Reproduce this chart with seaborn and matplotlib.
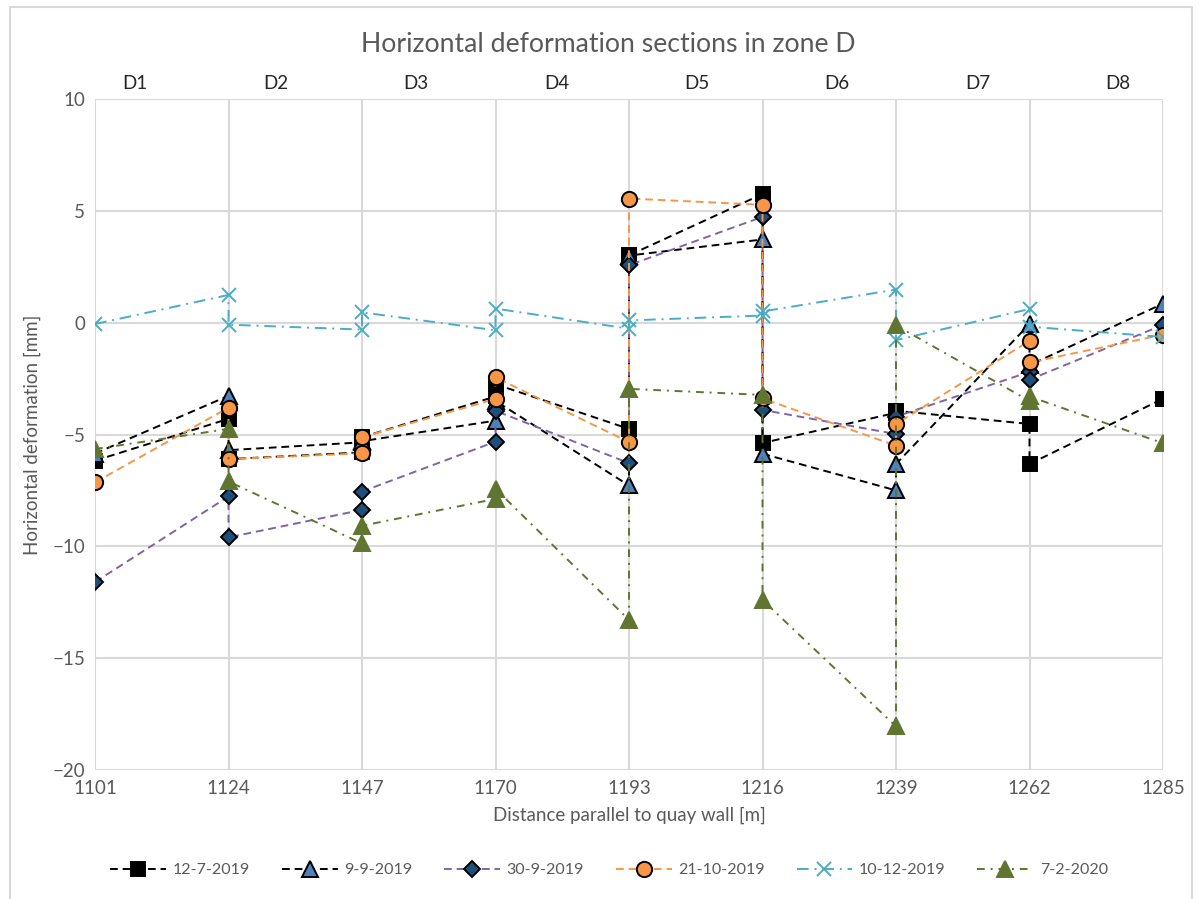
import matplotlib
matplotlib.use("Agg")
import matplotlib.pyplot as plt
from matplotlib.lines import Line2D
import seaborn as sns
import numpy as np

sns.set_theme(style="white")
plt.rcParams["font.family"] = ["Lato", "DejaVu Sans"]

# Section boundaries along the quay wall [m]
boundaries = [1101, 1124, 1147, 1170, 1193, 1216, 1239, 1262, 1285]
sections = ["D1", "D2", "D3", "D4", "D5", "D6", "D7", "D8"]

# Deformation [mm] at start and end of each section D1..D8
s_12_7_2019_start = [-6.17, -6.10, -5.12, -2.75, 3.01, -5.38, -3.94, -6.32]
s_12_7_2019_end = [-4.30, -5.80, -3.30, -4.75, 5.75, -4.03, -4.53, -3.40]

s_9_9_2019_start = [-5.85, -5.70, -5.30, -3.50, 3.00, -5.86, -6.32, -1.90]
s_9_9_2019_end = [-3.27, -5.35, -4.38, -7.28, 3.72, -7.50, -0.06, 0.85]

s_30_9_2019_start = [-11.60, -9.60, -7.55, -3.94, 2.57, -3.90, -4.20, -2.55]
s_30_9_2019_end = [-7.77, -8.37, -5.32, -6.28, 4.73, -4.98, -2.20, -0.10]

s_21_10_2019_start = [-7.14, -6.10, -5.12, -2.45, 5.55, -3.39, -4.53, -1.78]
s_21_10_2019_end = [-3.80, -5.84, -3.41, -5.34, 5.27, -5.50, -0.81, -0.54]

s_10_12_2019_start = [-0.06, -0.09, 0.46, 0.63, 0.10, 0.50, -0.78, -0.18]
s_10_12_2019_end = [1.24, -0.31, -0.34, -0.27, 0.32, 1.48, 0.61, -0.64]

s_7_2_2020_start = [-5.65, -7.10, -9.08, -7.43, -2.96, -12.40, -0.12, -3.30]
s_7_2_2020_end = [-4.75, -9.87, -7.88, -13.29, -3.23, -18.05, -3.50, -5.39]

labels = ["12-7-2019", "9-9-2019", "30-9-2019", "21-10-2019", "10-12-2019", "7-2-2020"]
starts = [s_12_7_2019_start, s_9_9_2019_start, s_30_9_2019_start,
          s_21_10_2019_start, s_10_12_2019_start, s_7_2_2020_start]
ends = [s_12_7_2019_end, s_9_9_2019_end, s_30_9_2019_end,
        s_21_10_2019_end, s_10_12_2019_end, s_7_2_2020_end]

dash = (0, (4.0, 2.5))
dashdot_long = (0, (6.0, 3.0, 1.0, 3.0))
dashdot = (0, (4.0, 3.0, 1.0, 3.0))
styles = [
    dict(color="black", linestyle=dash, marker="s", markersize=10.5,
         markerfacecolor="black", markeredgecolor="black"),
    dict(color="black", linestyle=dash, marker="^", markersize=11,
         markerfacecolor="#4F81BD", markeredgecolor="black"),
    dict(color="#8064A2", linestyle=dash, marker="D", markersize=8.5,
         markerfacecolor="#1F4E79", markeredgecolor="black"),
    dict(color="#F79646", linestyle=dash, marker="o", markersize=11,
         markerfacecolor="#F79646", markeredgecolor="black"),
    dict(color="#4BACC6", linestyle=dashdot_long, marker="x", markersize=10,
         markerfacecolor="#4BACC6", markeredgecolor="#4BACC6"),
    dict(color="#5F7530", linestyle=dashdot, marker="^", markersize=11,
         markerfacecolor="#5F7530", markeredgecolor="#5F7530"),
]

fig = plt.figure(figsize=(12, 8.99), dpi=100)
ax = fig.add_axes([95 / 1200, 1 - 770 / 899, (1163 - 95) / 1200, (770 - 99) / 899])

grey = "#595959"
for lab, st, en, sty in zip(labels, starts, ends, styles):
    xs, ys = [], []
    for i in range(len(sections)):
        xs += [boundaries[i], boundaries[i + 1]]
        ys += [st[i], en[i]]
    sns.lineplot(x=np.array(xs), y=np.array(ys), ax=ax, sort=False, estimator=None,
                 linewidth=1.4, markeredgewidth=1.4, label=lab, legend=False, **sty)

ax.set_xlim(boundaries[0], boundaries[-1])
ax.set_ylim(-20, 10)
ax.set_xticks(boundaries)
ax.set_yticks([10, 5, 0, -5, -10, -15, -20])
ax.grid(True, color="#D9D9D9", linewidth=1.5)
ax.set_axisbelow(True)
for sp in ax.spines.values():
    sp.set_visible(False)
ax.tick_params(axis="both", length=0, labelsize=13.5, labelcolor=grey, pad=7)
ax.set_xlabel("Distance parallel to quay wall [m]", fontsize=13.5, color=grey, labelpad=7)
ax.set_ylabel("Horizontal deformation [mm]", fontsize=13.5, color=grey, labelpad=8)

# Section names along the top
top = ax.twiny()
top.set_xlim(-0.285, 7.32)
top.set_xticks(range(len(sections)))
top.set_xticklabels(sections)
top.tick_params(axis="x", length=0, labelsize=13.5, labelcolor="#262626", pad=5)
for sp in top.spines.values():
    sp.set_visible(False)
top.grid(False)

fig.text(608 / 1200, 1 - 45 / 899, "Horizontal deformation sections in zone D",
         ha="center", va="center", fontsize=19.2, color=grey)

handles = [Line2D([], [], linewidth=1.4, markeredgewidth=1.4, **sty) for sty in styles]
fig.legend(handles, labels, loc="center", bbox_to_anchor=(609 / 1200, 1 - 870 / 899),
           ncol=6, frameon=False, fontsize=11.5, labelcolor=grey, handlelength=3.5,
           columnspacing=2.0, handletextpad=0.4)

# Chart frame
fig.add_artist(plt.Rectangle((10 / 1200, -0.01), 1182 / 1200, 1 - 7 / 899 + 0.01,
                             transform=fig.transFigure, fill=False,
                             edgecolor="#D9D9D9", linewidth=1.5))

fig.savefig("out.png", dpi=100)
